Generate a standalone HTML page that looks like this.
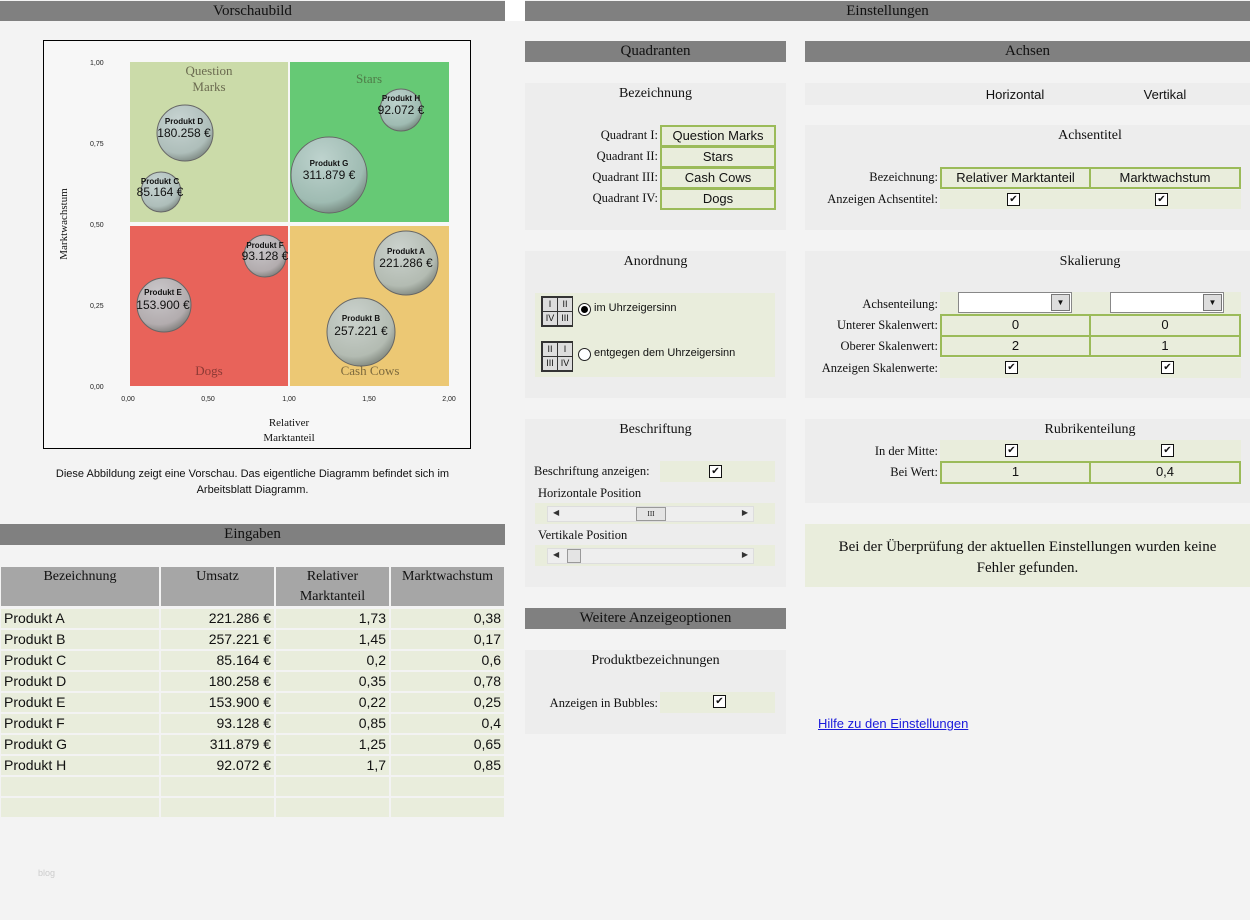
<!DOCTYPE html>
<html><head><meta charset="utf-8"><style>
body{margin:0;width:1250px;height:920px;background:#f3f3f3;position:relative;overflow:hidden;font-family:"Liberation Serif",serif;color:#111}
.a{position:absolute}
.bar{position:absolute;background:#808080;font:15px "Liberation Serif",serif;text-align:center;line-height:21px;color:#111}
.pn{position:absolute;background:#ededed}
.t{position:absolute;font:14px "Liberation Serif",serif;text-align:center}
.lb{position:absolute;font:12.5px "Liberation Serif",serif;text-align:right;white-space:nowrap}
.g{position:absolute;background:#e9eddc}
.gc{position:absolute;box-sizing:border-box;border:2px solid #9bbb59;background:#e9eddc;font:13px "Liberation Sans",sans-serif;text-align:center;line-height:17px}
.cb{position:absolute;width:11px;height:11px;border:1px solid #111;background:#fff;font:10px "DejaVu Sans",sans-serif;line-height:11px;text-align:center}
.tc{position:absolute;background:#e9eddc;font:14px "Liberation Sans",sans-serif;line-height:19px;height:19px;box-sizing:border-box;padding:0 3px;white-space:nowrap}
.th{position:absolute;background:#a6a6a6;font:14px "Liberation Serif",serif;text-align:center;top:567px;height:39px;line-height:20px}
.sb{position:absolute;background:#eeeeee;border:1px solid #ddd;height:14px}
.sb i{position:absolute;font-style:normal;font-size:8px;top:1px;color:#333}
.rad{position:absolute;width:11px;height:11px;border:1px solid #222;border-radius:50%;background:#fff}
.ic{position:absolute;width:30px;height:29px;border:1px solid #333;background:#ddd;font:9px "Liberation Sans",sans-serif}
.ic span{position:absolute;width:14px;height:13px;border:1px solid #333;text-align:center;line-height:13px}
</style></head><body>
<div class="bar" style="left:0;top:1px;width:505px;height:20px">Vorschaubild</div>
<div class="a" style="left:505px;top:0;width:20px;height:21px;background:#fff"></div>
<div class="bar" style="left:525px;top:1px;width:725px;height:20px">Einstellungen</div>

<svg class="a" style="left:43px;top:40px" width="428" height="409" viewBox="43 40 428 409">
<defs>
<radialGradient id="bg" cx="40%" cy="30%" r="70%"><stop offset="0" stop-color="#c8d4d8" stop-opacity=".9"/><stop offset=".8" stop-color="#a9b9bd" stop-opacity=".85"/><stop offset="1" stop-color="#7f8b8a" stop-opacity=".9"/></radialGradient>
</defs>
<rect x="43.5" y="40.5" width="427" height="408" fill="#f7f7f7" stroke="#000"/>
<rect x="130" y="62" width="158" height="160" fill="#cbdba9"/>
<rect x="290" y="62" width="159" height="160" fill="#66c975"/>
<rect x="130" y="226" width="158" height="160" fill="#e8635a"/>
<rect x="290" y="226" width="159" height="160" fill="#ecc874"/>
<g font-family="Liberation Serif" font-size="13" fill="#6b6b50" text-anchor="middle">
<text x="209" y="75">Question</text><text x="209" y="91">Marks</text>
<text x="369" y="83" fill="#4f7b48">Stars</text>
<text x="209" y="375" fill="#8d3a35">Dogs</text>
<text x="370" y="375" fill="#7d6a3e">Cash Cows</text>
</g>
<g font-family="Liberation Sans" font-size="7" fill="#222">
<text x="90" y="65">1,00</text><text x="90" y="146">0,75</text><text x="90" y="227">0,50</text><text x="90" y="308">0,25</text><text x="90" y="389">0,00</text>
<g text-anchor="middle"><text x="128" y="401">0,00</text><text x="208" y="401">0,50</text><text x="289" y="401">1,00</text><text x="369" y="401">1,50</text><text x="449" y="401">2,00</text></g>
</g>
<g font-family="Liberation Serif" font-size="11" fill="#111" text-anchor="middle">
<text x="289" y="426">Relativer</text><text x="289" y="441">Marktanteil</text>
<text transform="translate(67,224) rotate(-90)">Marktwachstum</text>
</g>
<g stroke="#666" stroke-width="1" fill="url(#bg)">
<circle cx="406" cy="263" r="32"/><circle cx="361" cy="332" r="34"/><circle cx="161" cy="192" r="20"/><circle cx="185" cy="133" r="28"/><circle cx="164" cy="305" r="27"/><circle cx="265" cy="256" r="21"/><circle cx="329" cy="175" r="38"/><circle cx="401" cy="110" r="21"/>
</g>
<g font-family="Liberation Sans" text-anchor="middle" fill="#111">
<g font-size="8" font-weight="bold">
<text x="406" y="254">Produkt A</text><text x="361" y="321">Produkt B</text><text x="160" y="184">Produkt C</text><text x="184" y="124">Produkt D</text><text x="163" y="295">Produkt E</text><text x="265" y="248">Produkt F</text><text x="329" y="166">Produkt G</text><text x="401" y="101">Produkt H</text></g>
<g font-size="12">
<text x="406" y="267">221.286 €</text><text x="361" y="335">257.221 €</text><text x="160" y="196">85.164 €</text><text x="184" y="137">180.258 €</text><text x="163" y="309">153.900 €</text><text x="265" y="260">93.128 €</text><text x="329" y="179">311.879 €</text><text x="401" y="114">92.072 €</text></g>
</g>
</svg>
<div class="a" style="left:0;width:505px;top:466px;font:11px 'Liberation Sans',sans-serif;text-align:center;line-height:16px">Diese Abbildung zeigt eine Vorschau. Das eigentliche Diagramm befindet sich im<br>Arbeitsblatt Diagramm.</div>

<div class="bar" style="left:0;top:524px;width:505px;height:21px">Eingaben</div>
<div class="th" style="left:1px;width:158px">Bezeichnung</div>
<div class="th" style="left:161px;width:113px">Umsatz</div>
<div class="th" style="left:276px;width:113px">Relativer<br>Marktanteil</div>
<div class="th" style="left:391px;width:113px">Marktwachstum</div>

<div id="rows"></div>
<div class="tc" style="left:1px;top:609px;width:158px">Produkt A</div><div class="tc" style="left:161px;top:609px;width:113px;text-align:right">221.286 €</div><div class="tc" style="left:276px;top:609px;width:113px;text-align:right">1,73</div><div class="tc" style="left:391px;top:609px;width:113px;text-align:right">0,38</div>
<div class="tc" style="left:1px;top:630px;width:158px">Produkt B</div><div class="tc" style="left:161px;top:630px;width:113px;text-align:right">257.221 €</div><div class="tc" style="left:276px;top:630px;width:113px;text-align:right">1,45</div><div class="tc" style="left:391px;top:630px;width:113px;text-align:right">0,17</div>
<div class="tc" style="left:1px;top:651px;width:158px">Produkt C</div><div class="tc" style="left:161px;top:651px;width:113px;text-align:right">85.164 €</div><div class="tc" style="left:276px;top:651px;width:113px;text-align:right">0,2</div><div class="tc" style="left:391px;top:651px;width:113px;text-align:right">0,6</div>
<div class="tc" style="left:1px;top:672px;width:158px">Produkt D</div><div class="tc" style="left:161px;top:672px;width:113px;text-align:right">180.258 €</div><div class="tc" style="left:276px;top:672px;width:113px;text-align:right">0,35</div><div class="tc" style="left:391px;top:672px;width:113px;text-align:right">0,78</div>
<div class="tc" style="left:1px;top:693px;width:158px">Produkt E</div><div class="tc" style="left:161px;top:693px;width:113px;text-align:right">153.900 €</div><div class="tc" style="left:276px;top:693px;width:113px;text-align:right">0,22</div><div class="tc" style="left:391px;top:693px;width:113px;text-align:right">0,25</div>
<div class="tc" style="left:1px;top:714px;width:158px">Produkt F</div><div class="tc" style="left:161px;top:714px;width:113px;text-align:right">93.128 €</div><div class="tc" style="left:276px;top:714px;width:113px;text-align:right">0,85</div><div class="tc" style="left:391px;top:714px;width:113px;text-align:right">0,4</div>
<div class="tc" style="left:1px;top:735px;width:158px">Produkt G</div><div class="tc" style="left:161px;top:735px;width:113px;text-align:right">311.879 €</div><div class="tc" style="left:276px;top:735px;width:113px;text-align:right">1,25</div><div class="tc" style="left:391px;top:735px;width:113px;text-align:right">0,65</div>
<div class="tc" style="left:1px;top:756px;width:158px">Produkt H</div><div class="tc" style="left:161px;top:756px;width:113px;text-align:right">92.072 €</div><div class="tc" style="left:276px;top:756px;width:113px;text-align:right">1,7</div><div class="tc" style="left:391px;top:756px;width:113px;text-align:right">0,85</div>
<div class="tc" style="left:1px;top:777px;width:158px"></div><div class="tc" style="left:161px;top:777px;width:113px"></div><div class="tc" style="left:276px;top:777px;width:113px"></div><div class="tc" style="left:391px;top:777px;width:113px"></div>
<div class="tc" style="left:1px;top:798px;width:158px"></div><div class="tc" style="left:161px;top:798px;width:113px"></div><div class="tc" style="left:276px;top:798px;width:113px"></div><div class="tc" style="left:391px;top:798px;width:113px"></div>
<div class="a" style="left:38px;top:868px;font:9px 'Liberation Sans',sans-serif;color:#ccc">blog</div>

<!-- Quadranten -->
<div class="bar" style="left:525px;top:41px;width:261px;height:21px">Quadranten</div>
<div class="pn" style="left:525px;top:83px;width:261px;height:147px"></div>
<div class="t" style="left:525px;top:86px;width:261px">Bezeichnung</div>
<div class="lb" style="left:525px;width:133px;top:128px">Quadrant I:</div>
<div class="lb" style="left:525px;width:133px;top:149px">Quadrant II:</div>
<div class="lb" style="left:525px;width:133px;top:170px">Quadrant III:</div>
<div class="lb" style="left:525px;width:133px;top:191px">Quadrant IV:</div>
<div class="gc" style="left:660px;top:125px;width:116px;height:22px">Question Marks</div>
<div class="gc" style="left:660px;top:146px;width:116px;height:22px">Stars</div>
<div class="gc" style="left:660px;top:167px;width:116px;height:22px">Cash Cows</div>
<div class="gc" style="left:660px;top:188px;width:116px;height:22px">Dogs</div>

<div class="pn" style="left:525px;top:251px;width:261px;height:147px"></div>
<div class="t" style="left:525px;top:254px;width:261px">Anordnung</div>
<div class="g" style="left:535px;top:293px;width:240px;height:84px"></div>
<div class="ic" style="left:541px;top:296px"><span style="left:0;top:0">I</span><span style="left:15px;top:0">II</span><span style="left:0;top:14px">IV</span><span style="left:15px;top:14px">III</span></div>
<div class="ic" style="left:541px;top:341px"><span style="left:0;top:0">II</span><span style="left:15px;top:0">I</span><span style="left:0;top:14px">III</span><span style="left:15px;top:14px">IV</span></div>
<div class="rad" style="left:578px;top:303px"><div class="a" style="left:2px;top:2px;width:7px;height:7px;border-radius:50%;background:#000"></div></div>
<div class="rad" style="left:578px;top:348px"></div>
<div class="a" style="left:594px;top:302px;font:11px 'Liberation Sans',sans-serif">im Uhrzeigersinn</div>
<div class="a" style="left:594px;top:347px;font:11px 'Liberation Sans',sans-serif">entgegen dem Uhrzeigersinn</div>

<div class="pn" style="left:525px;top:419px;width:261px;height:168px"></div>
<div class="t" style="left:525px;top:422px;width:261px">Beschriftung</div>
<div class="lb" style="left:534px;top:464px;text-align:left">Beschriftung anzeigen:</div>
<div class="g" style="left:660px;top:461px;width:115px;height:21px"></div>
<div class="cb" style="left:709px;top:465px">✔</div>
<div class="lb" style="left:538px;top:486px;text-align:left">Horizontale Position</div>
<div class="g" style="left:535px;top:503px;width:240px;height:21px"></div>
<div class="sb" style="left:547px;top:506px;width:205px"><i style="left:5px">◀</i><i style="right:5px">▶</i><div class="a" style="left:88px;top:0;width:28px;height:12px;border:1px solid #999;background:#e4e4e4;font-size:7px;text-align:center;line-height:12px">III</div></div>
<div class="lb" style="left:538px;top:528px;text-align:left">Vertikale Position</div>
<div class="g" style="left:535px;top:545px;width:240px;height:21px"></div>
<div class="sb" style="left:547px;top:548px;width:205px"><i style="left:5px">◀</i><i style="right:5px">▶</i><div class="a" style="left:19px;top:0;width:12px;height:12px;border:1px solid #999;background:#e4e4e4"></div></div>

<div class="bar" style="left:525px;top:608px;width:261px;height:21px">Weitere Anzeigeoptionen</div>
<div class="pn" style="left:525px;top:650px;width:261px;height:84px"></div>
<div class="t" style="left:525px;top:653px;width:261px">Produktbezeichnungen</div>
<div class="lb" style="left:525px;width:133px;top:696px">Anzeigen in Bubbles:</div>
<div class="g" style="left:660px;top:692px;width:115px;height:21px"></div>
<div class="cb" style="left:713px;top:695px">✔</div>

<!-- Achsen -->
<div class="bar" style="left:805px;top:41px;width:445px;height:21px">Achsen</div>
<div class="pn" style="left:805px;top:83px;width:445px;height:22px"></div>
<div class="a" style="left:940px;top:87px;width:150px;text-align:center;font:13px 'Liberation Sans',sans-serif">Horizontal</div>
<div class="a" style="left:1090px;top:87px;width:150px;text-align:center;font:13px 'Liberation Sans',sans-serif">Vertikal</div>

<div class="pn" style="left:805px;top:125px;width:445px;height:105px"></div>
<div class="t" style="left:940px;top:128px;width:300px">Achsentitel</div>
<div class="lb" style="left:805px;width:133px;top:170px">Bezeichnung:</div>
<div class="lb" style="left:805px;width:133px;top:192px">Anzeigen Achsentitel:</div>
<div class="gc" style="left:940px;top:167px;width:151px;height:22px">Relativer Marktanteil</div>
<div class="gc" style="left:1089px;top:167px;width:152px;height:22px">Marktwachstum</div>
<div class="g" style="left:940px;top:190px;width:301px;height:19px"></div>
<div class="cb" style="left:1007px;top:193px">✔</div><div class="cb" style="left:1155px;top:193px">✔</div>

<div class="pn" style="left:805px;top:251px;width:445px;height:147px"></div>
<div class="t" style="left:940px;top:254px;width:300px">Skalierung</div>
<div class="g" style="left:940px;top:292px;width:301px;height:22px"></div>
<div class="a" style="left:958px;top:292px;width:112px;height:19px;background:#fff;border:1px solid #888"><div class="a" style="right:1px;top:1px;width:17px;height:15px;background:#ddd;border:1px solid #777;font-size:8px;text-align:center;line-height:15px">▼</div></div>
<div class="a" style="left:1110px;top:292px;width:112px;height:19px;background:#fff;border:1px solid #888"><div class="a" style="right:1px;top:1px;width:17px;height:15px;background:#ddd;border:1px solid #777;font-size:8px;text-align:center;line-height:15px">▼</div></div>
<div class="lb" style="left:805px;width:133px;top:297px">Achsenteilung:</div>
<div class="lb" style="left:805px;width:133px;top:318px">Unterer Skalenwert:</div>
<div class="lb" style="left:805px;width:133px;top:339px">Oberer Skalenwert:</div>
<div class="lb" style="left:805px;width:133px;top:361px">Anzeigen Skalenwerte:</div>
<div class="gc" style="left:940px;top:314px;width:151px;height:23px">0</div>
<div class="gc" style="left:1089px;top:314px;width:152px;height:23px">0</div>
<div class="gc" style="left:940px;top:335px;width:151px;height:22px">2</div>
<div class="gc" style="left:1089px;top:335px;width:152px;height:22px">1</div>
<div class="g" style="left:940px;top:358px;width:301px;height:20px"></div>
<div class="cb" style="left:1005px;top:361px">✔</div><div class="cb" style="left:1161px;top:361px">✔</div>

<div class="pn" style="left:805px;top:419px;width:445px;height:84px"></div>
<div class="t" style="left:940px;top:422px;width:300px">Rubrikenteilung</div>
<div class="g" style="left:940px;top:440px;width:301px;height:21px"></div>
<div class="lb" style="left:805px;width:133px;top:444px">In der Mitte:</div>
<div class="lb" style="left:805px;width:133px;top:465px">Bei Wert:</div>
<div class="cb" style="left:1005px;top:444px">✔</div><div class="cb" style="left:1161px;top:444px">✔</div>
<div class="gc" style="left:940px;top:461px;width:151px;height:23px">1</div>
<div class="gc" style="left:1089px;top:461px;width:152px;height:23px">0,4</div>

<div class="g" style="left:805px;top:524px;width:445px;height:63px"></div>
<div class="a" style="left:805px;top:537px;width:445px;text-align:center;font:15px 'Liberation Serif',serif;line-height:21px">Bei der Überprüfung der aktuellen Einstellungen wurden keine<br>Fehler gefunden.</div>

<div class="a" style="left:818px;top:716px;font:13px 'Liberation Sans',sans-serif;color:#1a1adb;text-decoration:underline">Hilfe zu den Einstellungen</div>
</body></html>
